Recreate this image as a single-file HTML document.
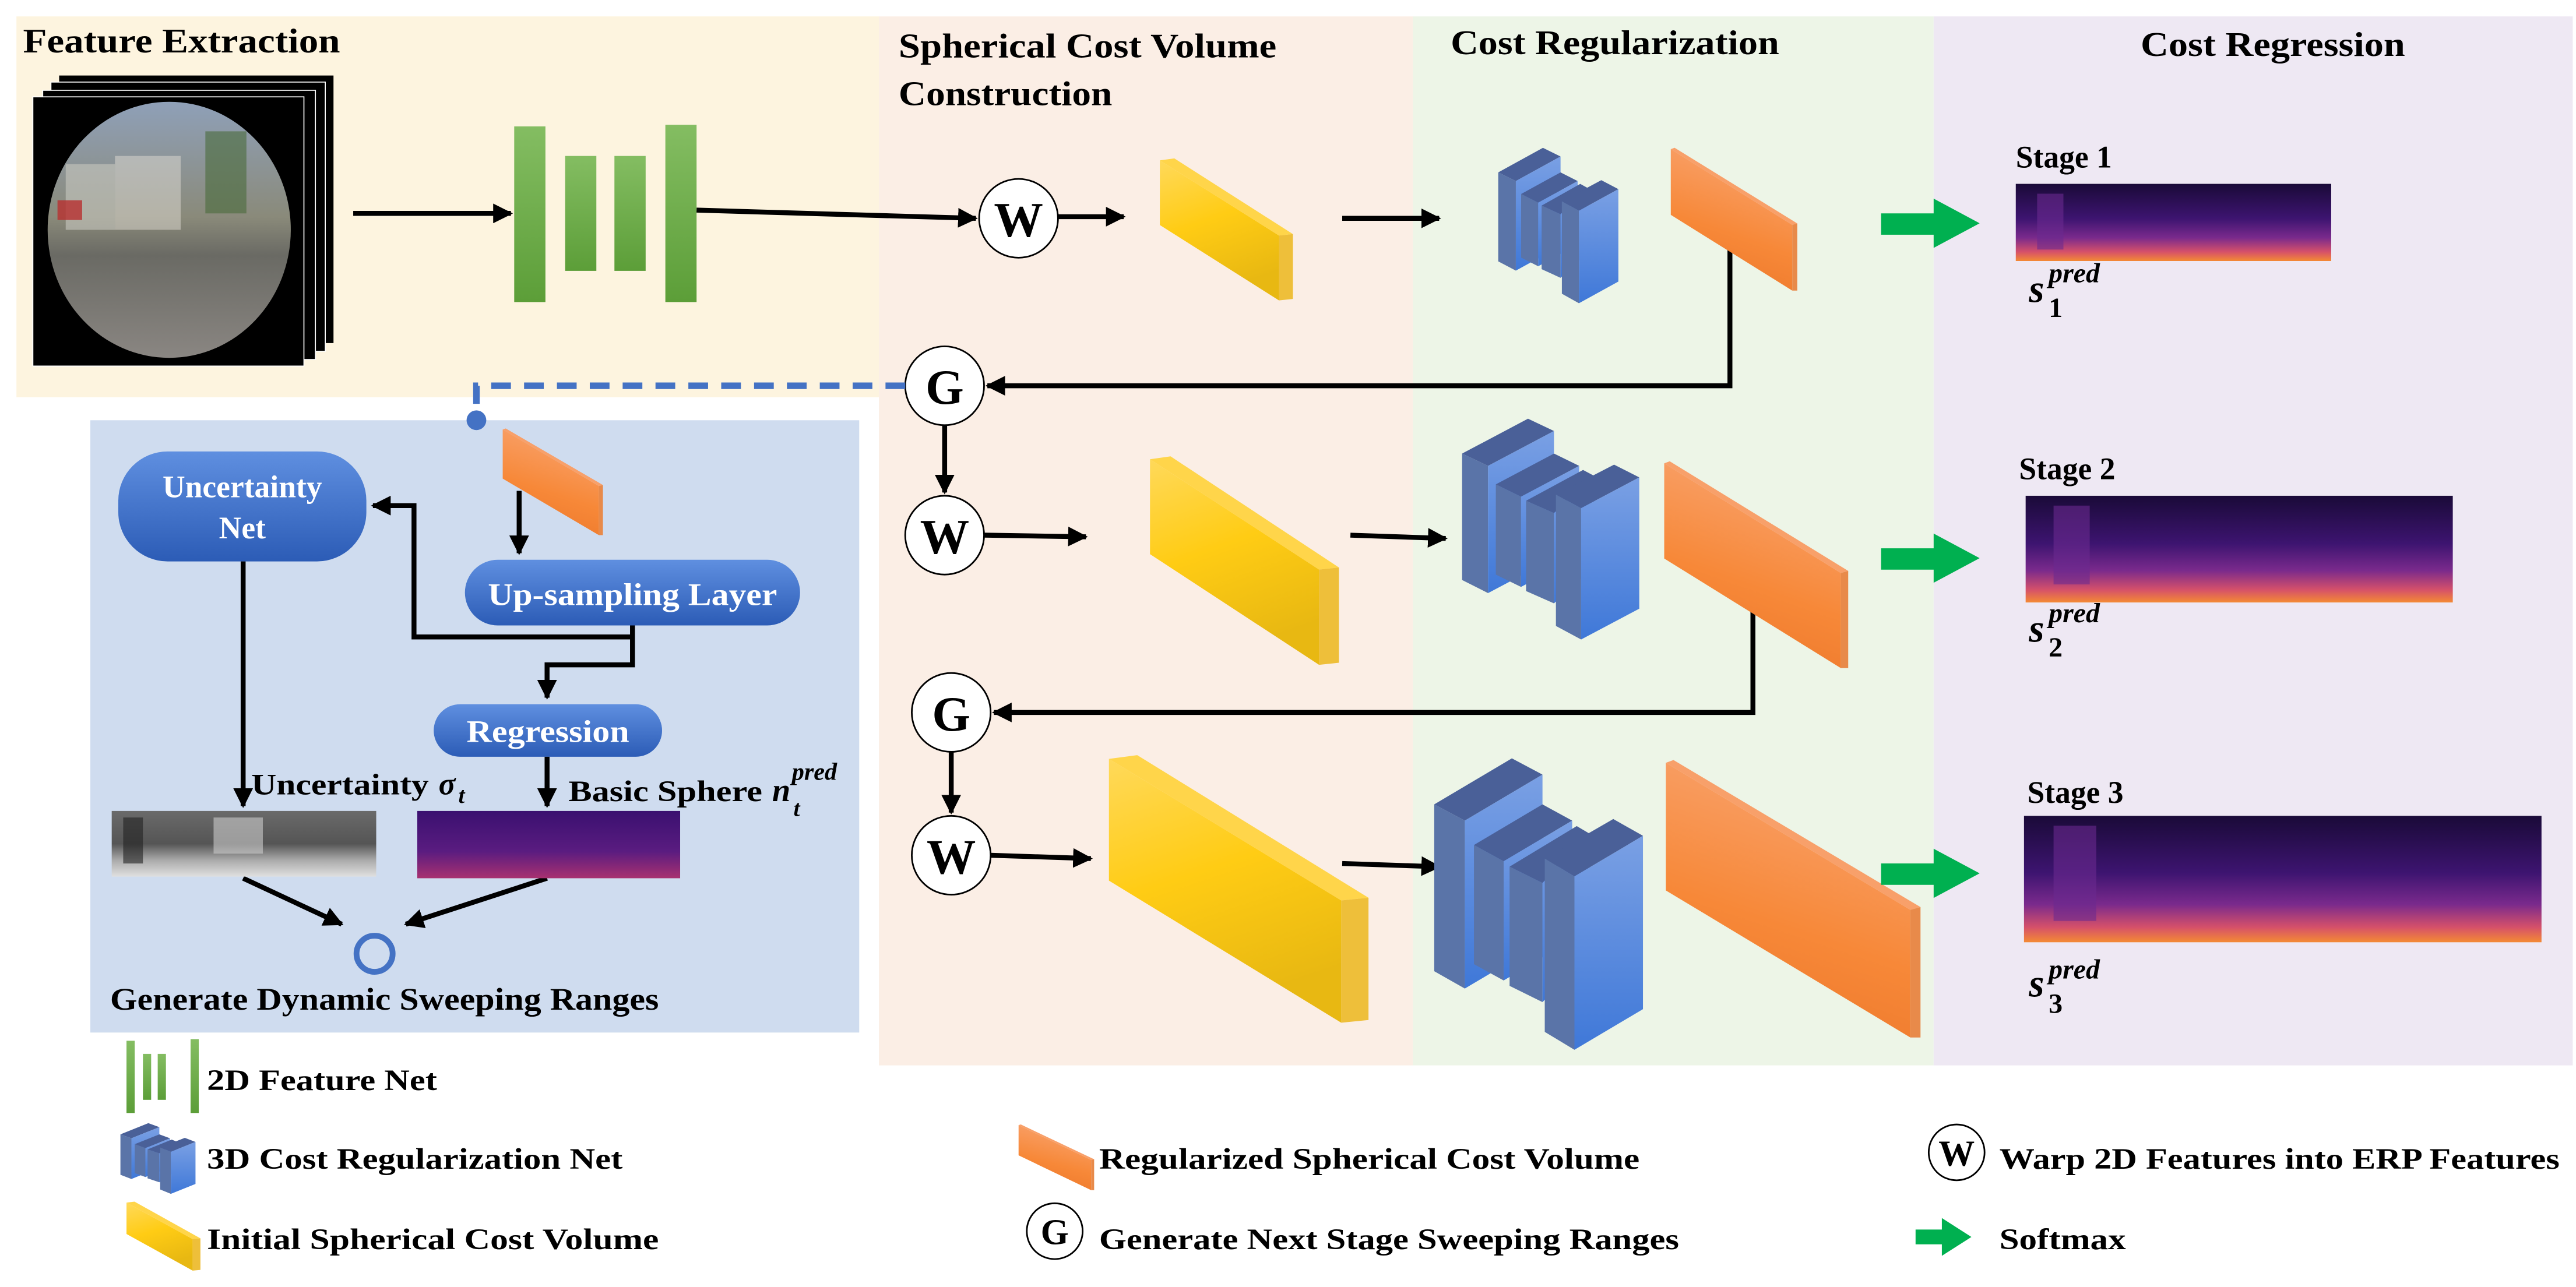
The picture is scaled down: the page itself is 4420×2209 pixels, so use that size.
<!DOCTYPE html>
<html><head><meta charset="utf-8"><style>
html,body{margin:0;padding:0;background:#fff;}
svg{display:block;}
text{font-family:"Liberation Serif","Times New Roman",serif;font-weight:bold;}
</style></head><body>
<svg width="4420" height="2209" viewBox="0 0 1568 784" preserveAspectRatio="none" xmlns="http://www.w3.org/2000/svg" font-family="Liberation Serif, serif">
<defs>
<marker id="ah" viewBox="0 0 10 10" refX="9" refY="5" markerWidth="4" markerHeight="4" orient="auto"><path d="M0,0 L10,5 L0,10 z" fill="#000"/></marker>
<linearGradient id="yg" x1="0" y1="0" x2="0.3" y2="1"><stop offset="0" stop-color="#ffd95a"/><stop offset="0.5" stop-color="#ffcc14"/><stop offset="1" stop-color="#e8b812"/></linearGradient>
<linearGradient id="og" x1="0.3" y1="0" x2="0" y2="1"><stop offset="0" stop-color="#f8a068"/><stop offset="0.5" stop-color="#f78838"/><stop offset="1" stop-color="#ea7428"/></linearGradient>
<linearGradient id="bf" x1="0" y1="0" x2="0" y2="1"><stop offset="0" stop-color="#7aa0e4"/><stop offset="1" stop-color="#3f78d8"/></linearGradient>
<linearGradient id="pill" x1="0" y1="0" x2="0" y2="1"><stop offset="0" stop-color="#5f8fe0"/><stop offset="1" stop-color="#2c5cb6"/></linearGradient>
<linearGradient id="gbar" x1="0" y1="0" x2="0" y2="1"><stop offset="0" stop-color="#84bd62"/><stop offset="1" stop-color="#5c9e38"/></linearGradient>
<linearGradient id="dep" x1="0" y1="0" x2="0" y2="1"><stop offset="0" stop-color="#1a0a38"/><stop offset="0.45" stop-color="#3d1470"/><stop offset="0.7" stop-color="#7a2a8c"/><stop offset="0.88" stop-color="#d5506a"/><stop offset="1" stop-color="#f48a34"/></linearGradient>
<linearGradient id="dep2" x1="0" y1="0" x2="0" y2="1"><stop offset="0" stop-color="#3a1070"/><stop offset="0.6" stop-color="#5a1c80"/><stop offset="1" stop-color="#a83070"/></linearGradient>
<linearGradient id="gray" x1="0" y1="0" x2="0" y2="1"><stop offset="0" stop-color="#6a6a6a"/><stop offset="0.5" stop-color="#555"/><stop offset="0.75" stop-color="#aaa"/><stop offset="1" stop-color="#e0e0e0"/></linearGradient>
<linearGradient id="fish" x1="0" y1="0" x2="0" y2="1"><stop offset="0" stop-color="#8fa0b8"/><stop offset="0.45" stop-color="#8a8a7a"/><stop offset="0.6" stop-color="#6a6a64"/><stop offset="1" stop-color="#8a8682"/></linearGradient>
<g id="yslab"><polygon points="0,1.4 89.5,54.3 89.5,100 0,46.9" fill="url(#yg)"/><polygon points="0,1.4 10.9,0 100,53.3 89.5,54.3" fill="#ffd54a"/><polygon points="89.5,54.3 100,53.3 100,99 89.5,100" fill="#eebf3a"/></g>
<g id="oslab"><polygon points="0,1 96,54 96,100 0,47" fill="url(#og)"/><polygon points="0,1 3,0 100,53 96,54" fill="#f8a06a"/><polygon points="96,54 100,53 100,100 96,100" fill="#e88a4a"/></g>
<g id="blk">
<polygon points="113,100 283,15 350,45 180,130" fill="#4a6098"/><polygon points="113,100 180,130 180,440 113,408" fill="#5a74a8"/><polygon points="180,130 350,45 350,355 180,440" fill="url(#bf)"/>
<polygon points="200,175 350,100 415,130 265,205" fill="#4a6098"/><polygon points="200,175 265,205 265,425 200,395" fill="#5a74a8"/><polygon points="265,205 415,130 415,350 265,425" fill="url(#bf)"/>
<polygon points="278,215 425,140 455,155 350,245" fill="#4a6098"/><polygon points="278,215 350,245 350,465 278,435" fill="#5a74a8"/><polygon points="350,245 455,155 455,375 350,465" fill="url(#bf)"/>
<polygon points="355,200 505,127 570,158 420,233" fill="#4a6098"/><polygon points="355,200 420,233 420,553 355,520" fill="#5a74a8"/><polygon points="420,233 570,158 570,478 420,553" fill="url(#bf)"/>
</g>
</defs>
<rect x="10" y="10" width="525" height="232" fill="#fdf4df"/>
<rect x="535" y="10" width="325" height="639" fill="#fbeee5"/>
<rect x="860" y="10" width="317" height="639" fill="#edf5e7"/>
<rect x="1177" y="10" width="389" height="639" fill="#eee8f3"/>
<rect x="55" y="256" width="468" height="373" fill="#cfdcef"/>
<text x="14" y="32" font-size="21" textLength="193" lengthAdjust="spacingAndGlyphs">Feature Extraction</text>
<text x="547" y="35" font-size="21" textLength="230" lengthAdjust="spacingAndGlyphs">Spherical Cost Volume</text>
<text x="547" y="64" font-size="21" textLength="130" lengthAdjust="spacingAndGlyphs">Construction</text>
<text x="883" y="33" font-size="21" textLength="200" lengthAdjust="spacingAndGlyphs">Cost Regularization</text>
<text x="1303" y="34" font-size="21" textLength="161" lengthAdjust="spacingAndGlyphs">Cost Regression</text>
<rect x="36" y="46" width="167" height="163" fill="#000"/>
<rect x="31" y="50" width="167" height="164" fill="#000" stroke="#fff" stroke-width="0.6"/>
<rect x="26" y="55" width="166" height="164" fill="#000" stroke="#fff" stroke-width="0.6"/>
<rect x="20" y="59" width="165" height="164" fill="#000" stroke="#fff" stroke-width="0.6"/>
<ellipse cx="103" cy="140" rx="74" ry="78" fill="url(#fish)"/>
<rect x="40" y="100" width="30" height="40" fill="#c8c8c0" opacity="0.6"/>
<rect x="70" y="95" width="40" height="45" fill="#e0dcd4" opacity="0.5"/>
<rect x="125" y="80" width="25" height="50" fill="#4a6a3a" opacity="0.6"/>
<rect x="35" y="122" width="15" height="12" fill="#b83030" opacity="0.8"/>
<line x1="215" y1="130" x2="311" y2="130" stroke="#000" stroke-width="3" marker-end="url(#ah)"/>
<rect x="313" y="77" width="19" height="107" fill="url(#gbar)"/>
<rect x="344" y="95" width="19" height="70" fill="url(#gbar)"/>
<rect x="374" y="95" width="19" height="70" fill="url(#gbar)"/>
<rect x="405" y="76" width="19" height="108" fill="url(#gbar)"/>
<line x1="424" y1="128" x2="594" y2="133" stroke="#000" stroke-width="3" marker-end="url(#ah)"/>
<g stroke="#000" stroke-width="1" fill="#fff">
<circle cx="620" cy="133" r="24"/><circle cx="575" cy="235" r="24"/><circle cx="575" cy="326" r="24"/><circle cx="579" cy="434" r="24"/><circle cx="579" cy="521" r="24"/>
</g>
<g font-size="30" text-anchor="middle">
<text x="620" y="144">W</text><text x="575" y="246">G</text><text x="575" y="337">W</text><text x="579" y="445">G</text><text x="579" y="532">W</text>
</g>
<g stroke="#000" stroke-width="3" fill="none">
<line x1="644" y1="132" x2="684" y2="132" marker-end="url(#ah)"/>
<line x1="817" y1="133" x2="876" y2="133" marker-end="url(#ah)"/>
<polyline points="1053,151 1053,235 601,235" marker-end="url(#ah)"/>
<line x1="575" y1="259" x2="575" y2="300" marker-end="url(#ah)"/>
<line x1="599" y1="326" x2="661" y2="327" marker-end="url(#ah)"/>
<line x1="822" y1="326" x2="880" y2="328" marker-end="url(#ah)"/>
<polyline points="1067,372 1067,434 605,434" marker-end="url(#ah)"/>
<line x1="579" y1="458" x2="579" y2="495" marker-end="url(#ah)"/>
<line x1="603" y1="521" x2="664" y2="523" marker-end="url(#ah)"/>
<line x1="817" y1="526" x2="876" y2="528" marker-end="url(#ah)"/>
</g>
<use href="#yslab" transform="translate(706,96.5) scale(0.81,0.865)"/>
<use href="#yslab" transform="translate(700,278) scale(1.15,1.27)"/>
<use href="#yslab" transform="translate(675,460) scale(1.58,1.63)"/>
<use href="#oslab" transform="translate(1017,90) scale(0.77,0.87)"/>
<use href="#oslab" transform="translate(1013,281) scale(1.12,1.26)"/>
<use href="#oslab" transform="translate(1014,463) scale(1.55,1.69)"/>
<use href="#blk" transform="translate(893.9,87.4) scale(0.16,0.176)"/>
<use href="#blk" transform="translate(863.3,251.3) scale(0.236,0.25)"/>
<use href="#blk" transform="translate(841.6,457) scale(0.278,0.33)"/>
<g fill="#00b050">
<polygon points="1145,130 1177,130 1177,121 1205,136 1177,151 1177,143 1145,143"/>
<polygon points="1145,334 1177,334 1177,325 1205,340 1177,355 1177,347 1145,347"/>
<polygon points="1145,526 1177,526 1177,517 1205,532 1177,547 1177,539 1145,539"/>
</g>
<text x="1227" y="102" font-size="19">Stage 1</text>
<rect x="1227" y="112" width="192" height="47" fill="url(#dep)"/>
<rect x="1240" y="118" width="16" height="34" fill="#6a2a90" opacity="0.6"/>
<text x="1229" y="292" font-size="19">Stage 2</text>
<rect x="1233" y="302" width="260" height="65" fill="url(#dep)"/>
<rect x="1250" y="308" width="22" height="48" fill="#6a2a90" opacity="0.6"/>
<text x="1234" y="489" font-size="19">Stage 3</text>
<rect x="1232" y="497" width="315" height="77" fill="url(#dep)"/>
<rect x="1250" y="503" width="26" height="58" fill="#6a2a90" opacity="0.6"/>
<g font-style="italic">
<text x="1235" y="184" font-size="24">s</text><text x="1247" y="172" font-size="17">pred</text><text x="1247" y="193" font-size="17" font-style="normal">1</text>
<text x="1235" y="391" font-size="24">s</text><text x="1247" y="379" font-size="17">pred</text><text x="1247" y="400" font-size="17" font-style="normal">2</text>
<text x="1235" y="607" font-size="24">s</text><text x="1247" y="596" font-size="17">pred</text><text x="1247" y="617" font-size="17" font-style="normal">3</text>
</g>
<polyline points="551,235 290,235 290,252" fill="none" stroke="#4472c4" stroke-width="4" stroke-dasharray="12,8"/>
<circle cx="290" cy="256" r="6" fill="#4472c4"/>
<use href="#oslab" transform="translate(306,261) scale(0.61,0.65)"/>
<rect x="72" y="275" width="151" height="67" rx="30" fill="url(#pill)"/>
<text x="147.5" y="303" font-size="19" fill="#fff" text-anchor="middle">Uncertainty</text>
<text x="147.5" y="328" font-size="19" fill="#fff" text-anchor="middle">Net</text>
<rect x="283" y="341" width="204" height="40" rx="20" fill="url(#pill)"/>
<text x="297" y="368.5" font-size="19" fill="#fff" textLength="176" lengthAdjust="spacingAndGlyphs">Up-sampling Layer</text>
<rect x="264" y="429" width="139" height="32" rx="16" fill="url(#pill)"/>
<text x="284" y="452" font-size="19" fill="#fff" textLength="99" lengthAdjust="spacingAndGlyphs">Regression</text>
<g stroke="#000" stroke-width="3" fill="none">
<line x1="316" y1="299" x2="316" y2="337" marker-end="url(#ah)"/>
<polyline points="385,381 385,388 252,388 252,308 227,308" marker-end="url(#ah)"/>
<polyline points="385,388 385,405 333,405 333,425" marker-end="url(#ah)"/>
<line x1="148" y1="342" x2="148" y2="491" marker-end="url(#ah)"/>
<line x1="333" y1="461" x2="333" y2="491" marker-end="url(#ah)"/>
<line x1="148" y1="535" x2="208" y2="563" marker-end="url(#ah)"/>
<line x1="333" y1="535" x2="247" y2="563" marker-end="url(#ah)"/>
</g>
<text x="153" y="484" font-size="18" textLength="108" lengthAdjust="spacingAndGlyphs">Uncertainty</text>
<text x="267" y="484" font-size="19" font-style="italic">σ</text><text x="279" y="489" font-size="14" font-style="italic">t</text>
<text x="346" y="488" font-size="18" textLength="118" lengthAdjust="spacingAndGlyphs">Basic Sphere</text>
<text x="470" y="488" font-size="20" font-style="italic">n</text><text x="482" y="475" font-size="15" font-style="italic">pred</text><text x="483" y="497" font-size="14" font-style="italic">t</text>
<rect x="68" y="494" width="161" height="40" fill="url(#gray)"/>
<rect x="75" y="498" width="12" height="28" fill="#222" opacity="0.6"/>
<rect x="130" y="498" width="30" height="22" fill="#ccc" opacity="0.6"/>
<rect x="254" y="494" width="160" height="41" fill="url(#dep2)"/>
<circle cx="228" cy="581" r="11" fill="none" stroke="#4472c4" stroke-width="3.5"/>
<text x="67" y="615" font-size="19" textLength="334" lengthAdjust="spacingAndGlyphs">Generate Dynamic Sweeping Ranges</text>
<rect x="77" y="634" width="5" height="44" fill="url(#gbar)"/><rect x="87" y="642" width="5" height="28" fill="url(#gbar)"/><rect x="96" y="642" width="5" height="28" fill="url(#gbar)"/><rect x="116" y="633" width="5" height="45" fill="url(#gbar)"/>
<text x="126" y="664" font-size="18" textLength="140" lengthAdjust="spacingAndGlyphs">2D Feature Net</text>
<use href="#blk" transform="translate(62,683) scale(0.1,0.08)"/>
<text x="126" y="712" font-size="18" textLength="253" lengthAdjust="spacingAndGlyphs">3D Cost Regularization Net</text>
<use href="#yslab" transform="translate(77,732) scale(0.45,0.42)"/>
<text x="126" y="761" font-size="18" textLength="275" lengthAdjust="spacingAndGlyphs">Initial Spherical  Cost Volume</text>
<use href="#oslab" transform="translate(620,685) scale(0.46,0.4)"/>
<text x="669" y="712" font-size="18" textLength="329" lengthAdjust="spacingAndGlyphs">Regularized Spherical  Cost Volume</text>
<circle cx="642" cy="750" r="17" fill="#fff" stroke="#000" stroke-width="1"/>
<text x="642" y="758" font-size="22" text-anchor="middle">G</text>
<text x="669" y="761" font-size="18" textLength="353" lengthAdjust="spacingAndGlyphs">Generate Next Stage Sweeping Ranges</text>
<circle cx="1191" cy="702" r="17" fill="#fff" stroke="#000" stroke-width="1"/>
<text x="1191" y="710" font-size="22" text-anchor="middle">W</text>
<text x="1217" y="712" font-size="18" textLength="341" lengthAdjust="spacingAndGlyphs">Warp 2D Features into ERP Features</text>
<polygon points="1166,749 1182,749 1182,742 1200,753.5 1182,765 1182,758 1166,758" fill="#00b050"/>
<text x="1217" y="761" font-size="18" textLength="77" lengthAdjust="spacingAndGlyphs">Softmax</text>
</svg>
</body></html>
